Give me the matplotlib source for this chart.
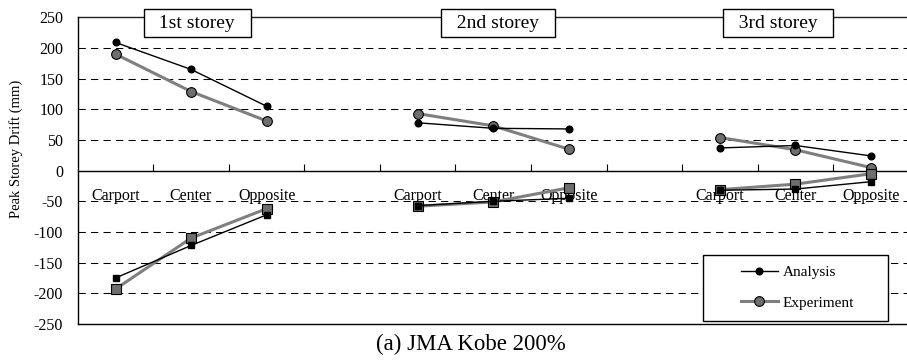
import matplotlib
matplotlib.use("Agg")
import matplotlib.pyplot as plt
import matplotlib.transforms as mtransforms
from matplotlib.lines import Line2D
from matplotlib.patches import Rectangle

plt.rcParams['font.family'] = ['Liberation Serif', 'DejaVu Serif']

# ---- data ----
categories = ["Carport", "Center", "Opposite"]
storeys = ["1st storey", "2nd storey", "3rd storey"]

analysis_pos = [[209, 165, 105], [78, 69, 68], [37, 41, 24]]
experiment_pos = [[190, 129, 81], [93, 73, 35], [54, 34, 5]]
analysis_neg = [[-175, -122, -72], [-57, -50, -45], [-32, -30, -18]]
experiment_neg = [[-193, -110, -62], [-58, -51, -28], [-31, -22, -5]]

yticks = [250, 200, 150, 100, 50, 0, -50, -100, -150, -200, -250]
title = "(a) JMA Kobe 200%"
ylabel = "Peak Storey Drift (mm)"

fig = plt.figure(figsize=(9.07, 3.6), dpi=100)
ax = fig.add_axes([0.0857, 0.1, 0.9163, 0.852])

n_slots = 11
group_start = [0, 4, 8]

ax.set_xlim(-0.5, n_slots - 0.5)
ax.set_ylim(-250, 250)

# grid lines
for v in yticks:
    if v in (0, 250, -250):
        continue
    ax.axhline(v, color='black', lw=0.75, linestyle=(0, (7, 5)), zorder=1)

ax.axhline(250, color='#222222', lw=1.0, clip_on=False, zorder=1)
ax.axhline(-250, color='black', lw=1.0, clip_on=False, zorder=1)

# spines: bottom at zero
for s in ['top', 'right']:
    ax.spines[s].set_visible(False)
ax.spines['bottom'].set_position(('data', 0))
ax.spines['bottom'].set_linewidth(1.0)
ax.spines['left'].set_linewidth(1.0)

ax.set_xticks([i + 0.5 for i in range(n_slots)])
ax.set_xticklabels([])
ax.tick_params(axis='x', direction='in', length=5, width=0.8, color='black')
ax.set_yticks(yticks)
ax.set_yticklabels([str(v) for v in yticks], fontsize=11.5)
ax.tick_params(axis='y', length=0, pad=10.5)
ax.set_ylabel(ylabel, fontsize=10.5)
ax.yaxis.set_label_coords(-0.066, 0.571)

an_col = 'black'
ex_line = '#7f7f7f'
ex_face = '#6e6e6e'

lab_trans = mtransforms.offset_copy(ax.transData, fig=fig, x=0, y=-25, units='dots')
for g in range(3):
    xs = [group_start[g] + k for k in range(3)]
    ax.plot(xs, analysis_pos[g], color=an_col, lw=1.0, marker='o', ms=4.8,
            mfc='black', mec='black', zorder=4)
    ax.plot(xs, experiment_pos[g], color=ex_line, lw=2.2, marker='o', ms=7,
            mfc=ex_face, mec='black', mew=0.8, zorder=3)
    ax.plot(xs, analysis_neg[g], color=an_col, lw=1.0, marker='s', ms=4.5,
            mfc='black', mec='black', zorder=4)
    ax.plot(xs, experiment_neg[g], color=ex_line, lw=2.2, marker='s', ms=7,
            mfc=ex_face, mec='black', mew=0.8, zorder=3)
    for k, c in enumerate(categories):
        ax.text(xs[k], 0, c, transform=lab_trans, ha='center', va='center',
                fontsize=11.5, zorder=2)

# storey boxes
box_x = [0.1436, 0.5058, 0.8427]
for bx, s in zip(box_x, storeys):
    ax.text(bx, 0.981, "  " + s + "  ", transform=ax.transAxes, ha='center', va='center',
            fontsize=14, zorder=6,
            bbox=dict(boxstyle='square,pad=0.3', fc='white', ec='black', lw=1.0))

# legend (frame drawn separately)
ax.add_patch(Rectangle((0.7525, 0.0098), 0.2226, 0.2152, transform=ax.transAxes,
                       fc='white', ec='black', lw=1.0, zorder=6))
handles = [
    Line2D([], [], color=an_col, lw=1.0, marker='o', ms=4.8, mfc='black', mec='black'),
    Line2D([], [], color=ex_line, lw=2.2, marker='o', ms=7, mfc=ex_face, mec='black', mew=0.8),
]
leg = ax.legend(handles, ["Analysis", "Experiment"], loc='center left',
                bbox_to_anchor=(0.798, 0.119), frameon=False,
                fontsize=11, handlelength=2.4,
                borderpad=0.0, labelspacing=1.1, handletextpad=0.33,
                borderaxespad=0.0)
leg.set_zorder(7)

fig.text(0.519, 0.042, title, ha='center', va='center', fontsize=16.5)

fig.savefig("out.png", dpi=100)
